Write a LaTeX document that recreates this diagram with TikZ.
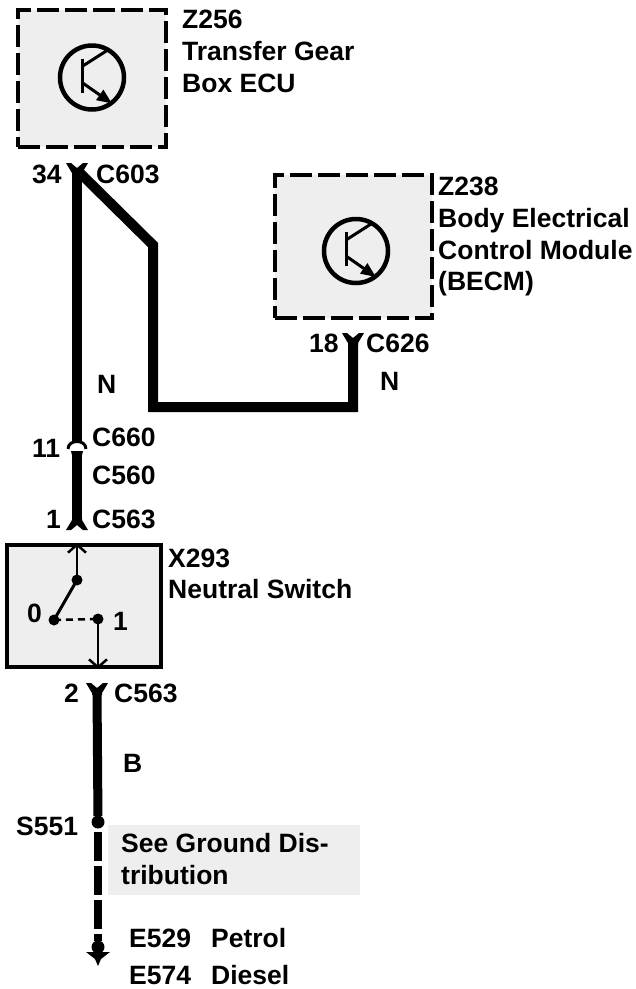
\documentclass[tikz,border=0pt]{standalone}
\usepackage{fontspec}
\setmainfont{Liberation Sans}
\usetikzlibrary{arrows.meta}
\definecolor{boxgray}{HTML}{EEEEEE}
\newcommand{\Transis}[1]{\begin{scope}[shift={(#1)}]
 \draw[line width=4.5pt] (0,0) circle[radius=32pt];
 \draw[line width=3pt] (-10,-19) -- (-10,15);
 \draw[line width=3pt] (-10,-11) -- (15,-27);
 \draw[line width=3pt, -{Triangle[length=15pt,width=12pt]}] (-10,5) -- (20,26);
\end{scope}}
\newcommand{\ConnY}[2]{\fill ({#1-11},{#2}) -- ({#1-6},{#2}) -- ({#1},{#2+5}) -- ({#1+6},{#2}) -- ({#1+11},{#2}) -- ({#1+5},{#2+10}) -- ({#1+5},{#2+12}) -- ({#1-5},{#2+12}) -- ({#1-5},{#2+10}) -- cycle;}
\newcommand{\ConnYinv}[2]{\fill ({#1-11},{#2}) -- ({#1-6},{#2}) -- ({#1},{#2-5}) -- ({#1+6},{#2}) -- ({#1+11},{#2}) -- ({#1+5},{#2-10}) -- ({#1+5},{#2-12}) -- ({#1-5},{#2-12}) -- ({#1-5},{#2-10}) -- cycle;}
\tikzset{
 dbox/.style={draw, fill=boxgray, line width=4.5pt, dash pattern=on 22pt off 6pt, inner sep=0pt},
 sbox/.style={draw, fill=boxgray, line width=4pt, inner sep=0pt},
 wire/.style={line width=10pt},
 lbl/.style={anchor=base west, inner sep=0pt, font=\bfseries\fontsize{26.5}{30}\selectfont},
 thinw/.style={line width=2.5pt},
 barb/.style={-{Straight Barb[length=8pt,width=18pt,line width=2.5pt]}},
 dot/.style={radius=5.5pt}
}
\begin{document}
\begin{tikzpicture}[x=1pt,y=-1pt]
\useasboundingbox (0,0) rectangle (636,989);
% boxes
\node[dbox, minimum width=148pt, minimum height=137pt] (z256) at (92,78.5) {};
\node[dbox, minimum width=157pt, minimum height=143pt] (z238) at (353.5,246.5) {};
\node[sbox, minimum width=154pt, minimum height=122pt] (x293) at (84,606) {};
\node[fill=boxgray, minimum width=252pt, minimum height=70pt, inner sep=0pt] (gnd) at (234,860) {};
\Transis{92,77.5}
\Transis{356,251}
% coordinates
\coordinate (c603) at (77,170);
\coordinate (bend1) at (153,245);
\coordinate (corner) at (153,407);
\coordinate (corner2) at (353,407);
\coordinate (c626) at (353,340);
\coordinate (c660t) at (77,441);
\coordinate (c660b) at (77,451);
\coordinate (c563a) at (77,522);
\coordinate (c563b) at (97,690);
\coordinate (s551) at (98,822);
\coordinate (e529) at (98,947);
% wires
\draw[wire] (c603) -- (c660t);
\draw[wire] (c603) -- (bend1) -- (corner) -- (corner2) -- (c626);
\draw[wire] (c660b) -- (c563a);
\draw[wire, line width=9pt, shorten >=6pt] (c563b) -- (s551);
\fill (s551) circle[radius=6.5pt];
\draw[wire, line width=8.5pt, dash pattern=on 29pt off 5pt, shorten <=10pt, shorten >=6pt] (s551) -- (e529);
% ground
\fill (e529) circle[radius=6.5pt];
\fill ([shift={(-12,5)}]e529) -- ([shift={(12,5)}]e529) -- ([shift={(3,12)}]e529) -- ([shift={(0,19)}]e529) -- ([shift={(-3,12)}]e529) -- cycle;
% connector symbols
\ConnY{77}{163}
\ConnY{353}{333}
\ConnY{97}{683}
\ConnYinv{77}{530}
\draw[line width=3pt] (68,449) .. controls (68,439) and (86,439) .. (86,449);
\fill (71,451) -- (83,451) -- (82,455) -- (72,455) -- cycle;
% switch internals
\coordinate (swc) at (77,580);
\coordinate (sw0) at (54,620);
\coordinate (sw1) at (98,619);
\draw[thinw, barb] (swc) -- (swc |- x293.north);
\draw[line width=3pt] (swc) -- (sw0);
\draw[thinw, dash pattern=on 7pt off 5pt] (sw0) -- (sw1);
\draw[thinw, barb] (sw1) -- (sw1 |- x293.south);
\fill (swc) circle[dot];
\fill (sw0) circle[dot];
\fill (sw1) circle[dot];
% labels
\node[lbl] (t1) at (182,28) {Z256};
\node[lbl] (t2) at (182,60) {Transfer Gear};
\node[lbl] (t3) at (182,92) {Box ECU};
\node[lbl] (t4) at (32,183) {34};
\node[lbl] (t5) at (96,183) {C603};
\node[lbl] (t6) at (438,195) {Z238};
\node[lbl] (t7) at (438,227) {Body Electrical};
\node[lbl] (t8) at (438,259) {Control Module};
\node[lbl] (t9) at (438,290) {(BECM)};
\node[lbl] (t10) at (309,352) {18};
\node[lbl] (t11) at (366,352) {C626};
\node[lbl] (t12) at (97,393) {N};
\node[lbl] (t13) at (380,390) {N};
\node[lbl] (t14) at (32,457) {11};
\node[lbl] (t15) at (92,446) {C660};
\node[lbl] (t16) at (92,484) {C560};
\node[lbl] (t17) at (46,528) {1};
\node[lbl] (t18) at (92,528) {C563};
\node[lbl] (t19) at (168,567) {X293};
\node[lbl] (t20) at (168,598) {Neutral Switch};
\node[lbl] (t21) at (27,622) {0};
\node[lbl] (t22) at (113,630) {1};
\node[lbl] (t23) at (64,702) {2};
\node[lbl] (t24) at (114,702) {C563};
\node[lbl] (t25) at (123,772) {B};
\node[lbl] (t26) at (16,835) {S551};
\node[lbl] (t27) at (121,852) {See Ground Dis-};
\node[lbl] (t28) at (121,884) {tribution};
\node[lbl] (t29) at (129,947) {E529};
\node[lbl] (t30) at (211,947) {Petrol};
\node[lbl] (t31) at (129,984) {E574};
\node[lbl] (t32) at (211,984) {Diesel};
\end{tikzpicture}
\end{document}
